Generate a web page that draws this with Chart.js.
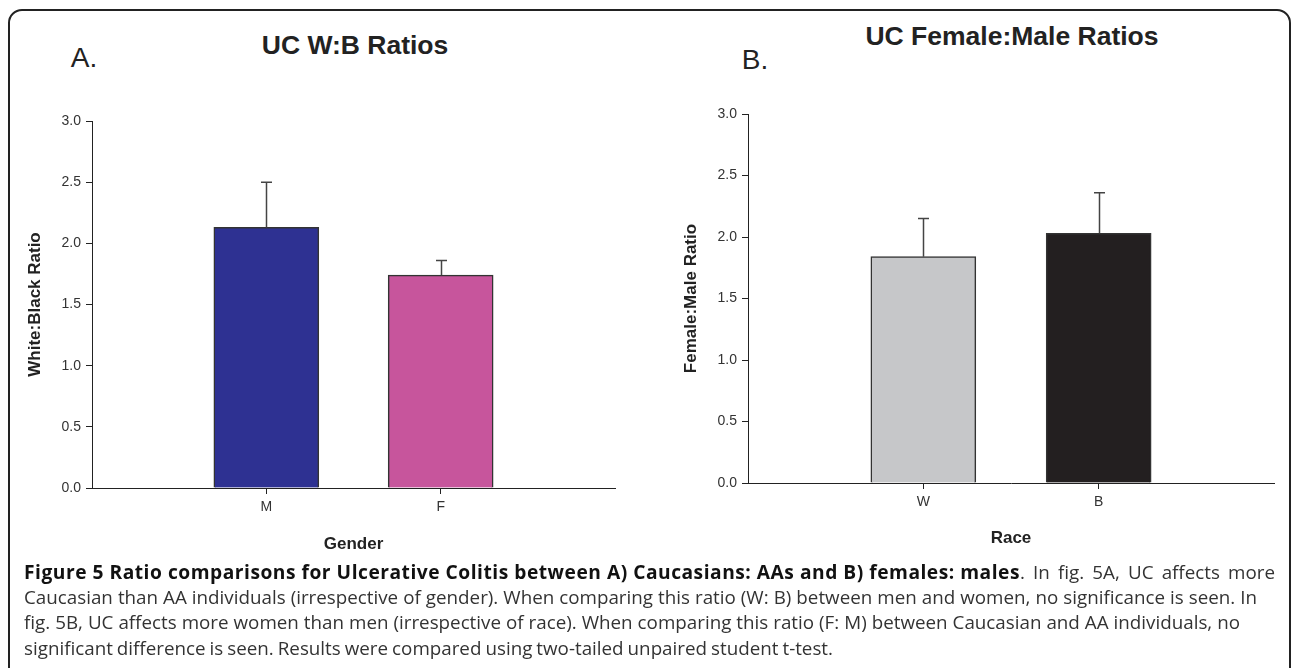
<!DOCTYPE html>
<html><head><meta charset="utf-8">
<script src="https://cdn.jsdelivr.net/npm/chart.js@4.4.1/dist/chart.umd.min.js"></script>
<style>
html,body{margin:0;padding:0;background:#fff;width:1292px;height:668px;overflow:hidden;position:relative;font-family:"Liberation Sans",Arial,sans-serif;}
#frame{position:absolute;left:8px;top:9px;width:1283px;height:720px;border:2px solid #222;border-radius:14px;box-sizing:border-box;}
.lbl{position:absolute;white-space:nowrap;color:#222;transform:translate(-50%,-50%);line-height:1;}
.panel{position:absolute;font-size:28px;font-weight:normal;}
.ttl{font-size:26.5px;font-weight:bold;}
.wrap{position:absolute;}
#caption{position:absolute;left:24px;top:559px;font-family:"Open Sans",sans-serif;font-size:18.8px;line-height:25.7px;color:#333;white-space:nowrap;}
#caption .cl{display:block;height:25.7px;}
#caption .cl span.t{display:inline-block;}
#caption b{color:#111;font-weight:700;font-size:19.2px;}
</style>
</head><body>
<div id="frame"></div>
<div class="lbl panel" style="left:84px;top:58px;">A.</div>
<div class="lbl panel" style="left:755px;top:60px;">B.</div>
<div class="lbl ttl" style="left:355px;top:45px;">UC W:B Ratios</div>
<div class="lbl ttl" style="left:1012px;top:36px;">UC Female:Male Ratios</div>
<div class="wrap" style="left:0;top:100px;"><canvas id="cA" width="640" height="460"></canvas></div>
<div class="wrap" style="left:650px;top:100px;"><canvas id="cB" width="642" height="460"></canvas></div>
<div id="caption">
<div class="cl"><span class="t" data-end="1275"><b id="bold1">Figure 5 Ratio comparisons for Ulcerative Colitis between A) Caucasians: AAs and B) females: males</b><span id="reg1">. In fig. 5A, UC affects more</span></span></div>
<div class="cl"><span class="t" data-end="1257">Caucasian than AA individuals (irrespective of gender). When comparing this ratio (W: B) between men and women, no significance is seen. In</span></div>
<div class="cl"><span class="t" data-end="1240">fig. 5B, UC affects more women than men (irrespective of race). When comparing this ratio (F: M) between Caucasian and AA individuals, no</span></div>
<div class="cl"><span class="t" data-end="833">significant difference is seen. Results were compared using two-tailed unpaired student t-test.</span></div>
</div>
<script>
// ---- data ----
const categoriesA = ['', 'M', 'F', ''];
const ratiosA = [null, 2.13, 1.74, null];
const errorsA = [null, 0.37, 0.12, null];

const categoriesB = ['', 'W', 'B', ''];
const ratiosB = [null, 1.84, 2.03, null];
const errorsB = [null, 0.31, 0.33, null];

const yTickValues = [0, 0.5, 1.0, 1.5, 2.0, 2.5, 3.0];

const FONT = '"Liberation Sans", Arial, sans-serif';

const errorBars = {
  id: 'errorBars',
  afterDatasetsDraw(chart, args, opts) {
    const ctx = chart.ctx;
    const y = chart.scales.y;
    const ds = chart.data.datasets[0];
    const meta = chart.getDatasetMeta(0);
    ctx.save();
    ctx.strokeStyle = opts.color;
    ctx.lineWidth = opts.width;
    meta.data.forEach((bar, i) => {
      const v = ds.data[i];
      const e = opts.errors[i];
      if (v == null || e == null) return;
      const yTop = y.getPixelForValue(v + e);
      const x = Math.round(bar.x) + 0.5;
      ctx.beginPath();
      ctx.moveTo(x, bar.y);
      ctx.lineTo(x, yTop);
      ctx.moveTo(x - opts.cap, yTop);
      ctx.lineTo(x + opts.cap, yTop);
      ctx.stroke();
    });
    ctx.restore();
  }
};

function makeChart(id, cats, vals, errs, colors, xTitle, yTitle, L) {
  return new Chart(document.getElementById(id), {
    type: 'bar',
    data: {
      labels: cats,
      datasets: [{
        data: vals,
        backgroundColor: colors,
        borderColor: '#333',
        borderWidth: 1.5,
        borderSkipped: 'start',
        barThickness: 105
      }]
    },
    options: {
      responsive: false,
      animation: false,
      layout: { padding: L.pad },
      plugins: {
        legend: { display: false },
        tooltip: { enabled: false },
        errorBars: { errors: errs, color: '#444', width: 1.5, cap: 5.5 }
      },
      scales: {
        x: {
          offset: false,
          ticks: { color: '#333', font: { family: FONT, size: 14 }, padding: 5, autoSkip: false, maxRotation: 0 },
          grid: {
            offset: false,
            drawOnChartArea: false, tickLength: 6, tickWidth: 1,
            tickColor: c => (c.index === 1 || c.index === 2) ? '#222' : 'rgba(0,0,0,0)'
          },
          border: { color: '#222', width: 1 },
          title: { display: true, text: xTitle, color: '#222', font: { family: FONT, size: 17, weight: 'bold' }, padding: { top: 0, bottom: 0 } },
          afterFit: s => { s.height = L.xh; }
        },
        y: {
          min: 0, max: 3,
          afterBuildTicks: s => { s.ticks = yTickValues.map(v => ({ value: v })); },
          ticks: { color: '#333', font: { family: FONT, size: 14 }, padding: 5, callback: v => Number(v).toFixed(1) },
          grid: { drawOnChartArea: false, tickLength: 6, tickWidth: 1, tickColor: '#222' },
          border: { color: '#222', width: 1 },
          title: { display: true, text: yTitle, color: '#222', font: { family: FONT, size: 17, weight: 'bold' }, padding: { top: L.ytp, bottom: 0 } },
          afterFit: s => { s.width = L.yw; }
        }
      }
    },
    plugins: [errorBars]
  });
}

makeChart('cA', categoriesA, ratiosA, errorsA, [null, '#2E3192', '#C7559C', null],
  'Gender', 'White:Black Ratio',
  { pad: { left: 0, top: 21, right: 25, bottom: 5 }, xh: 67, yw: 92, ytp: 25 });

makeChart('cB', categoriesB, ratiosB, errorsB, [null, '#C6C7C9', '#231F20', null],
  'Race', 'Female:Male Ratio',
  { pad: { left: 0, top: 14, right: 18, bottom: 11 }, xh: 66, yw: 98, ytp: 31 });

// fit caption lines to the reference line ends
function fitCaption() {
  const b = document.getElementById('bold1');
  const bRight = b.getBoundingClientRect().right;
  const nb = b.textContent.length;
  b.style.letterSpacing = ((1020 - bRight) / nb) + 'px';
  document.querySelectorAll('#caption span.t').forEach(sp => {
    const end = +sp.dataset.end;
    const target = sp.querySelector('#reg1') || sp;
    const spaces = (target.textContent.match(/ /g) || []).length;
    const right = sp.getBoundingClientRect().right;
    if (spaces) target.style.wordSpacing = ((end - right) / spaces) + 'px';
  });
}
if (document.fonts && document.fonts.ready) document.fonts.ready.then(fitCaption); else fitCaption();
</script>
</body></html>
